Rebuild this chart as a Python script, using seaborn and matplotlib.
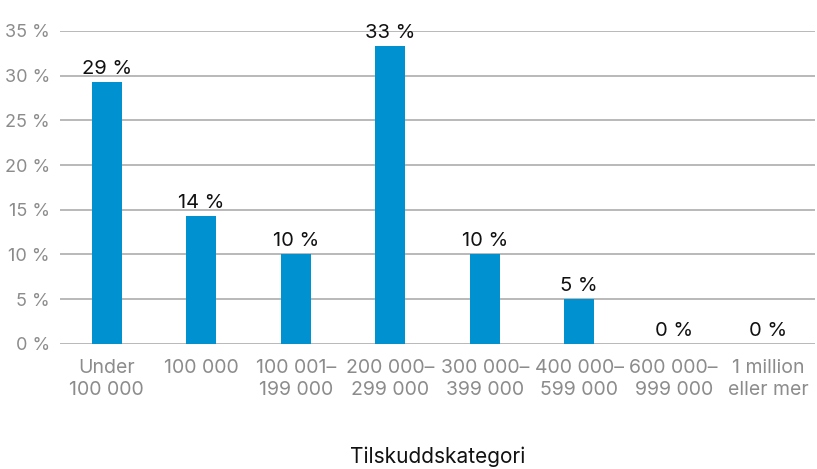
import matplotlib
matplotlib.use("Agg")
import matplotlib.pyplot as plt
import seaborn as sns
import pandas as pd

categories = ["Under\n100 000", "100 000", "100 001–\n199 000", "200 000–\n299 000",
              "300 000–\n399 000", "400 000–\n599 000", "600 000–\n999 000", "1 million\neller mer"]
values = [29.3, 14.3, 10.0, 33.3, 10.0, 5.0, 0.0, 0.0]
yticks = [0, 5, 10, 15, 20, 25, 30, 35]
xlabel = "Tilskuddskategori"

sns.set_theme(style="white")
plt.rcParams["font.family"] = ["Inter", "DejaVu Sans"]

df = pd.DataFrame({"kategori": categories, "andel": values})

fig = plt.figure(figsize=(8.17, 4.69), dpi=100)
ax = fig.add_axes([0.073, 0.267, 0.925, 0.667])

for t in yticks:
    ax.axhline(t, color="#b3b3b3", lw=1.3, zorder=0)

sns.barplot(data=df, x="kategori", y="andel", color="#0091d0", width=0.32,
            saturation=1, linewidth=0, ax=ax, zorder=2)

for i, v in enumerate(values):
    ax.annotate(f"{round(v)} %", (i, v), xytext=(0, 3), textcoords="offset points",
                ha="center", va="bottom", fontsize=14.5, color="#111111",
                annotation_clip=False)

ax.set_ylim(0, 35)
ax.set_xlim(-0.5, len(categories) - 0.5)
ax.set_yticks(yticks)
ax.set_yticklabels([f"{t} %" for t in yticks])
ax.tick_params(axis="y", colors="#8c8c8c", labelsize=13, length=0, pad=7)
ax.tick_params(axis="x", colors="#8c8c8c", labelsize=14, length=0, pad=11)
for lbl in ax.get_xticklabels():
    lbl.set_verticalalignment("top")
    lbl.set_linespacing(1.3)
ax.set_ylabel("")
ax.set_xlabel(xlabel, fontsize=15, color="#111111", labelpad=34)
for s in ax.spines.values():
    s.set_visible(False)

fig.savefig("out.png", dpi=100)
